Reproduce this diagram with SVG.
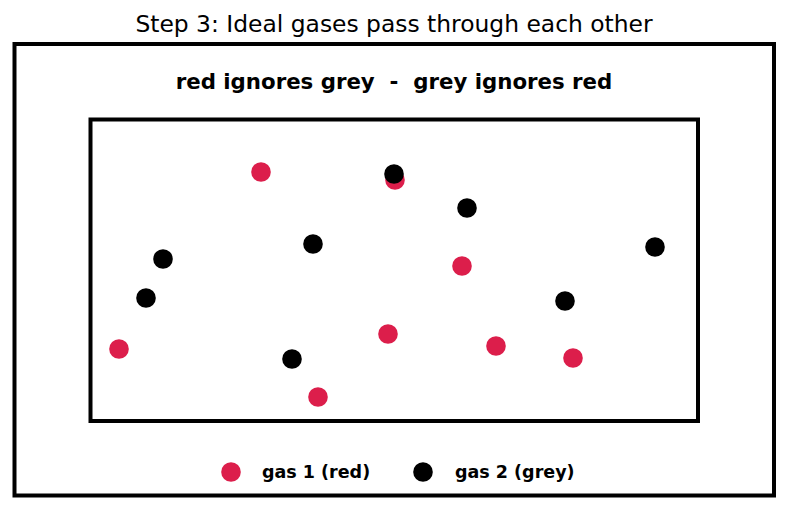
<svg xmlns="http://www.w3.org/2000/svg" width="787" height="510" viewBox="0 0 787 510">
<style>
.frame{fill:none;stroke:#000;stroke-width:4}
.red{fill:#dc1e4b}
.grey{fill:#000}
text{font-family:"DejaVu Sans",sans-serif;fill:#000}
.title{font-size:23.4px;text-anchor:middle}
.sub{font-size:21.3px;font-weight:bold;text-anchor:middle;white-space:pre}
.leg{font-size:17.5px;font-weight:bold}
</style>
<rect width="787" height="510" fill="#fff"/>
<text class="title" x="394" y="32">Step 3: Ideal gases pass through each other</text>
<g id="outer"><rect class="frame" x="14.5" y="44" width="759.5" height="451.5"/></g>
<text class="sub" x="394" y="89" xml:space="preserve">red ignores grey  -  grey ignores red</text>
<g id="box"><rect class="frame" x="90.5" y="119.5" width="607.5" height="301.5"/></g>
<g id="gas1">
<circle class="red" cx="261" cy="172" r="9.8"/>
<circle class="red" cx="395" cy="180" r="9.8"/>
<circle class="red" cx="462" cy="266" r="9.8"/>
<circle class="red" cx="119" cy="349" r="9.8"/>
<circle class="red" cx="388" cy="334" r="9.8"/>
<circle class="red" cx="496" cy="346" r="9.8"/>
<circle class="red" cx="573" cy="358" r="9.8"/>
<circle class="red" cx="318" cy="397" r="9.8"/>
</g>
<g id="gas2">
<circle class="grey" cx="394" cy="174" r="9.8"/>
<circle class="grey" cx="467" cy="208" r="9.8"/>
<circle class="grey" cx="313" cy="244" r="9.8"/>
<circle class="grey" cx="163" cy="259" r="9.8"/>
<circle class="grey" cx="655" cy="247" r="9.8"/>
<circle class="grey" cx="146" cy="298" r="9.8"/>
<circle class="grey" cx="565" cy="301" r="9.8"/>
<circle class="grey" cx="292" cy="359" r="9.8"/>
</g>
<g id="legend">
<circle class="red" cx="231" cy="472" r="9.8"/>
<text class="leg" x="262" y="478">gas 1 (red)</text>
<circle class="grey" cx="423" cy="472" r="9.8"/>
<text class="leg" x="455" y="478">gas 2 (grey)</text>
</g>
</svg>
